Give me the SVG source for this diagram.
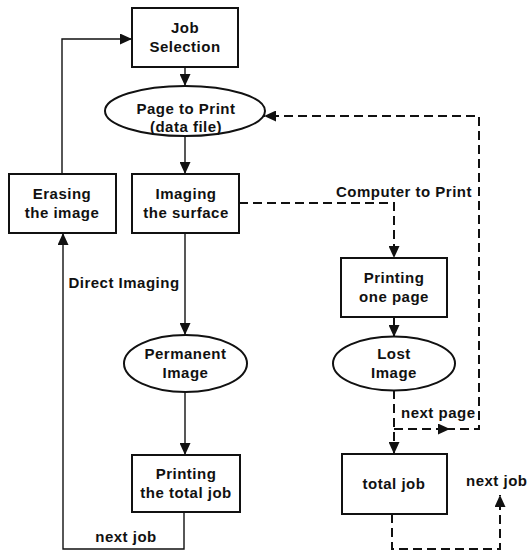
<svg xmlns="http://www.w3.org/2000/svg" width="527" height="551" viewBox="0 0 527 551">
<style>
.box{fill:#fff;stroke:#111;stroke-width:2}
.t{font-family:"Liberation Sans",Arial,Helvetica,sans-serif;font-weight:bold;font-size:15px;letter-spacing:0.5px;fill:#111;text-anchor:middle}
.ls{text-anchor:start}
.c{fill:none;stroke:#111;stroke-width:1.4}
.d{fill:none;stroke:#111;stroke-width:2;stroke-dasharray:9 5}
</style>
<defs>
<marker id="ah" markerUnits="userSpaceOnUse" markerWidth="13" markerHeight="11" refX="12" refY="5.5" orient="auto">
<path d="M0,0 L12,5.5 L0,11 z" fill="#111"/>
</marker>
</defs>
<rect width="527" height="551" fill="#fff"/>
<g id="connectors">
<path class="c" d="M185,67 V86" marker-end="url(#ah)"/>
<path class="c" d="M185,136 V174" marker-end="url(#ah)"/>
<path class="c" d="M185,233 V335" marker-end="url(#ah)"/>
<path class="c" d="M185,392 V455" marker-end="url(#ah)"/>
<path class="c" d="M184,512 V549 H63 V233" marker-end="url(#ah)"/>
<path class="c" d="M62,174 V39 H132" marker-end="url(#ah)"/>
<path class="d" d="M239,203 H394 V258" marker-end="url(#ah)"/>
<path class="d" d="M394,317 V337" marker-end="url(#ah)"/>
<path class="d" d="M394,390 V454" marker-end="url(#ah)"/>
<path class="d" d="M394,429 H450" marker-end="url(#ah)"/>
<path class="d" d="M446,429 H479 V116 H264" marker-end="url(#ah)"/>
<path class="d" d="M392,514 V549 H500 V495" marker-end="url(#ah)"/>
<text class="t" x="124" y="288">Direct Imaging</text>
<text class="t" x="404" y="197">Computer to Print</text>
<text class="t ls" x="401" y="418">next page</text>
<text class="t" x="126" y="542">next job</text>
<text class="t ls" x="466" y="486">next job</text>
</g>
<g id="job-selection">
<rect class="box" x="132" y="8" width="106" height="59"/>
<text class="t" x="185" y="33">Job</text>
<text class="t" x="185" y="52">Selection</text>
</g>
<g id="page-to-print">
<ellipse class="box" cx="185" cy="111" rx="80" ry="25"/>
<text class="t" x="186" y="114">Page to Print</text>
<text class="t" x="186" y="132">(data file)</text>
</g>
<g id="erasing">
<rect class="box" x="9" y="174" width="107" height="59"/>
<text class="t" x="62" y="199">Erasing</text>
<text class="t" x="62" y="218">the image</text>
</g>
<g id="imaging">
<rect class="box" x="132" y="174" width="107" height="59"/>
<text class="t" x="186" y="199">Imaging</text>
<text class="t" x="186" y="218">the surface</text>
</g>
<g id="permanent-image">
<ellipse class="box" cx="185.5" cy="363.5" rx="61.5" ry="28.5"/>
<text class="t" x="185.5" y="359">Permanent</text>
<text class="t" x="185.5" y="378">Image</text>
</g>
<g id="printing-total-job">
<rect class="box" x="132" y="455" width="108" height="57"/>
<text class="t" x="186" y="479">Printing</text>
<text class="t" x="186" y="498">the total job</text>
</g>
<g id="printing-one-page">
<rect class="box" x="341" y="258" width="106" height="59"/>
<text class="t" x="394" y="283">Printing</text>
<text class="t" x="394" y="302">one page</text>
</g>
<g id="lost-image">
<ellipse class="box" cx="394" cy="363.5" rx="61" ry="27"/>
<text class="t" x="394" y="359">Lost</text>
<text class="t" x="394" y="378">Image</text>
</g>
<g id="total-job">
<rect class="box" x="342" y="454" width="105" height="60"/>
<text class="t" x="394" y="489">total job</text>
</g>
</svg>
